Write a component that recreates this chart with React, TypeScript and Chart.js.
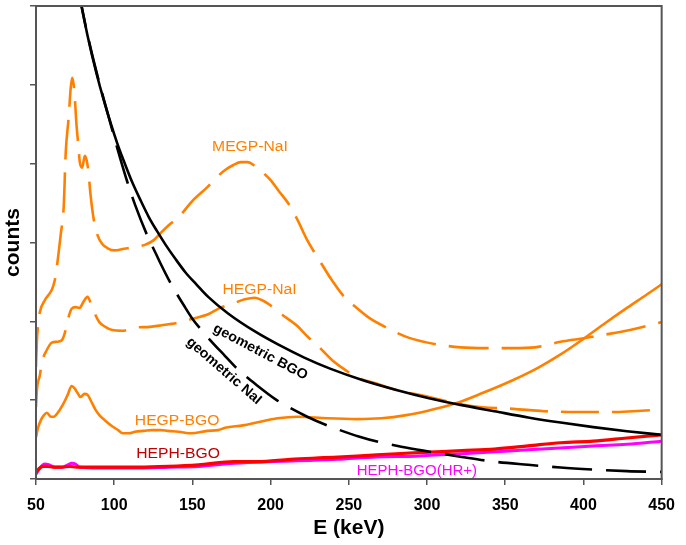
import React, { useEffect, useRef } from "react";
import { Chart, registerables } from "chart.js";

Chart.register(...registerables);

// ---------- data (E in keV, counts in arbitrary units) ----------
const megpNaIE = [50, 50.6, 51.3, 52.5, 55.7, 60.1, 62.0, 63.9, 65.8, 67.7, 69.0, 70.9, 72.2, 73.1, 74.1, 74.7, 75.9, 77.2, 78.0, 79.5, 81.2, 82.4, 83.5, 84.8, 86.7, 89.2, 92.4, 95.6, 100.0, 106.3, 112.7, 119.6, 125.3, 129.7, 134.8, 141.1, 150.6, 158.9, 165.2, 170.9, 175.9, 181.0, 185.4, 189.9, 194.9, 200.0, 205.7, 210.8, 217.1, 223.4, 231.0, 239.2, 247.5, 255.1, 263.3, 274.1, 288.6, 305.7, 321.5, 337.3, 355.1, 369.0, 385.4, 398.1, 413.3, 429.7, 450];
const megpNaIC = [1.42, 1.76, 1.95, 2.12, 2.27, 2.40, 2.52, 2.78, 3.10, 3.45, 4.14, 4.59, 4.96, 5.09, 5.00, 4.87, 4.49, 4.21, 4.02, 3.95, 4.10, 4.04, 3.90, 3.62, 3.32, 3.10, 2.98, 2.93, 2.90, 2.92, 2.94, 2.97, 3.03, 3.12, 3.22, 3.32, 3.54, 3.69, 3.82, 3.92, 3.98, 4.02, 4.02, 3.97, 3.89, 3.79, 3.64, 3.51, 3.29, 3.03, 2.78, 2.52, 2.30, 2.17, 2.04, 1.92, 1.79, 1.71, 1.67, 1.66, 1.66, 1.67, 1.74, 1.78, 1.83, 1.89, 1.99];

const hegpNaIE = [50, 50.6, 52.5, 53.8, 57.0, 60.1, 63.3, 66.5, 68.4, 69.6, 70.9, 72.8, 75.3, 77.8, 80.4, 82.9, 85.4, 88.0, 90.5, 94.3, 98.7, 105.1, 113.3, 122.8, 130.4, 139.9, 149.4, 160.1, 167.7, 176.6, 183.5, 189.9, 194.3, 199.4, 207.6, 217.1, 223.4, 229.7, 239.2, 248.7, 255.1, 267.7, 280.4, 301.3, 318.4, 335.4, 355.1, 374.7, 396.2, 419.0, 431.6, 450];
const hegpNaIC = [0.91, 1.13, 1.32, 1.48, 1.64, 1.73, 1.74, 1.76, 1.85, 1.95, 2.06, 2.16, 2.18, 2.17, 2.25, 2.31, 2.21, 2.08, 1.99, 1.93, 1.89, 1.88, 1.92, 1.93, 1.95, 1.98, 2.03, 2.09, 2.17, 2.23, 2.28, 2.30, 2.27, 2.21, 2.08, 1.94, 1.81, 1.70, 1.51, 1.37, 1.29, 1.21, 1.13, 1.04, 0.96, 0.91, 0.89, 0.86, 0.85, 0.85, 0.86, 0.88];

const hegpBGOE = [50, 51.3, 53.2, 55.1, 57.0, 59.5, 61.4, 63.9, 67.1, 70.3, 72.8, 74.7, 76.6, 78.5, 81.0, 82.9, 85.4, 88.0, 90.5, 94.3, 98.7, 102.5, 105.7, 109.5, 113.3, 119.0, 124.1, 129.7, 134.2, 141.1, 149.4, 159.5, 166.5, 170.9, 182.3, 191.8, 204.4, 217.1, 236.1, 255.1, 270.9, 286.7, 301.3, 318.4, 335.4, 354.4, 370.9, 385.4, 398.1, 412.7, 427.8, 440.5, 450];
const hegpBGOC = [0.53, 0.65, 0.75, 0.81, 0.84, 0.79, 0.79, 0.84, 0.94, 1.07, 1.18, 1.15, 1.09, 1.04, 1.08, 1.07, 0.98, 0.88, 0.81, 0.74, 0.67, 0.62, 0.58, 0.58, 0.60, 0.61, 0.62, 0.62, 0.61, 0.60, 0.58, 0.61, 0.62, 0.65, 0.68, 0.72, 0.77, 0.79, 0.77, 0.76, 0.77, 0.81, 0.87, 0.96, 1.09, 1.25, 1.41, 1.58, 1.75, 1.96, 2.17, 2.34, 2.47];

const hephBGOE = [50, 51.9, 54.4, 57.6, 60.8, 66.5, 71.5, 75.9, 90.5, 115.8, 134.8, 153.8, 176.6, 191.8, 212.6, 234.2, 255.1, 280.4, 301.3, 322.2, 343.0, 364.6, 385.4, 406.3, 427.8, 450];
const hephBGOC = [0.08, 0.13, 0.16, 0.16, 0.15, 0.15, 0.16, 0.15, 0.15, 0.15, 0.16, 0.18, 0.22, 0.22, 0.25, 0.27, 0.29, 0.32, 0.34, 0.36, 0.38, 0.42, 0.46, 0.48, 0.52, 0.56];

const hephHRE = [50, 52.5, 55.7, 58.2, 62.0, 67.1, 70.3, 72.8, 75.3, 77.8, 90.5, 115.8, 134.8, 153.8, 176.6, 198.1, 217.1, 242.4, 267.7, 293.0, 322.2, 364.6, 406.3, 427.8, 450];
const hephHRC = [0.06, 0.14, 0.19, 0.18, 0.15, 0.15, 0.18, 0.20, 0.19, 0.15, 0.14, 0.14, 0.15, 0.16, 0.20, 0.22, 0.23, 0.25, 0.28, 0.29, 0.32, 0.37, 0.42, 0.44, 0.48];

const geoBGOE = [76.9, 79.1, 82.9, 88.6, 93.7, 101.9, 107.0, 111.4, 116.5, 122.2, 127.2, 132.9, 139.2, 145.6, 152.5, 160.1, 172.8, 190.5, 204.4, 221.5, 238.0, 259.5, 280.4, 301.3, 322.2, 343.0, 364.6, 385.4, 406.3, 427.8, 450];
const geoBGOC = [6.23, 6.00, 5.63, 5.15, 4.78, 4.26, 3.99, 3.77, 3.55, 3.32, 3.15, 2.97, 2.79, 2.62, 2.47, 2.31, 2.10, 1.865, 1.71, 1.54, 1.40, 1.25, 1.13, 1.025, 0.937, 0.86, 0.781, 0.716, 0.658, 0.606, 0.56];

const geoNaIE = [76.9, 79.1, 82.9, 88.6, 93.7, 98.7, 103.8, 108.2, 113.3, 120.9, 126.6, 129.7, 136.7, 144.3, 149.4, 160.1, 170.9, 179.1, 191.8, 203.2, 210.8, 223.4, 236.1, 244.3, 256.3, 269.0, 283.5, 297.5, 322.2, 343.0, 364.6, 385.4, 406.3, 427.8, 450];
const geoNaIC = [6.23, 6.00, 5.64, 5.17, 4.79, 4.43, 4.07, 3.78, 3.48, 3.10, 2.86, 2.73, 2.46, 2.21, 2.05, 1.79, 1.56, 1.39, 1.18, 1.01, 0.92, 0.79, 0.68, 0.62, 0.54, 0.47, 0.41, 0.36, 0.28, 0.22, 0.18, 0.145, 0.12, 0.10, 0.09];

// annotation labels (positions in data units)
const labelTexts = ["MEGP-NaI", "HEGP-NaI", "HEGP-BGO", "HEPH-BGO", "HEPH-BGO(HR+)", "geometric BGO", "geometric NaI"];
const labelE = [186.8, 192.9, 140.2, 140.8, 293.5, 193.4, 170.1];
const labelC = [4.21, 2.40, 0.74, 0.32, 0.10, 1.61, 1.37];

const xTitle = "E (keV)";
const yTitle = "counts";

// ---------- styles ----------
const FONT = "'Liberation Sans', Arial, Helvetica, sans-serif";
const ORANGE = "#FF8000";
const labelStyles = [
  { color: ORANGE, weight: "normal", size: 14, angle: 0, stretch: 1.12 },
  { color: ORANGE, weight: "normal", size: 14, angle: 0, stretch: 1.12 },
  { color: ORANGE, weight: "normal", size: 14, angle: 0, stretch: 1.12 },
  { color: "#C00000", weight: "normal", size: 14, angle: 0, stretch: 1.12 },
  { color: "#FF00FF", weight: "normal", size: 14, angle: 0, stretch: 1.07 },
  { color: "#000000", weight: "bold", size: 14, angle: 28, stretch: 1.02 },
  { color: "#000000", weight: "bold", size: 14, angle: 41, stretch: 1.02 },
];

const pts = (xs: number[], ys: number[]) => xs.map((x, i) => ({ x, y: ys[i] }));

const overlayPlugin = {
  id: "overlay",
  afterDatasetsDraw(chart: any) {
    const { ctx, chartArea, scales } = chart;
    const xs = scales.x;
    const ys = scales.y;
    ctx.save();
    labelTexts.forEach((t, i) => {
      const st = labelStyles[i];
      const px = xs.getPixelForValue(labelE[i]);
      const py = ys.getPixelForValue(labelC[i]);
      ctx.save();
      ctx.translate(px, py);
      ctx.rotate((st.angle * Math.PI) / 180);
      ctx.scale(st.stretch, 1);
      ctx.font = `${st.weight} ${st.size}px ${FONT}`;
      ctx.fillStyle = st.color;
      ctx.textAlign = "center";
      ctx.textBaseline = "middle";
      ctx.fillText(t, 0, 0);
      ctx.restore();
    });
    ctx.strokeStyle = "#555555";
    ctx.lineWidth = 2;
    ctx.strokeRect(chartArea.left, chartArea.top, chartArea.right - chartArea.left, chartArea.bottom - chartArea.top);
    ctx.restore();
  },
};

export default function App() {
  const ref = useRef<HTMLCanvasElement | null>(null);
  useEffect(() => {
    if (!ref.current) return;
    const geoClip = { left: 5, top: 0, right: 5, bottom: 5 };
    const chart = new Chart(ref.current, {
      type: "line",
      data: {
        datasets: [
          { label: "geometric BGO", data: pts(geoBGOE, geoBGOC), borderColor: "#000", borderWidth: 2.6, clip: geoClip as any },
          { label: "geometric NaI", data: pts(geoNaIE, geoNaIC), borderColor: "#000", borderWidth: 2.6, borderDash: [40, 14], clip: geoClip as any },
          { label: "HEPH-BGO", data: pts(hephBGOE, hephBGOC), borderColor: "#FF0000", borderWidth: 3.2 },
          { label: "HEPH-BGO(HR+)", data: pts(hephHRE, hephHRC), borderColor: "#FF00FF", borderWidth: 3 },
          { label: "MEGP-NaI", data: pts(megpNaIE, megpNaIC), borderColor: ORANGE, borderWidth: 2.6, borderDash: [40, 13] },
          { label: "HEGP-NaI", data: pts(hegpNaIE, hegpNaIC), borderColor: ORANGE, borderWidth: 2.6, borderDash: [38, 13] },
          { label: "HEGP-BGO", data: pts(hegpBGOE, hegpBGOC), borderColor: ORANGE, borderWidth: 2.6 },
        ] as any,
      },
      options: {
        animation: false,
        responsive: true,
        maintainAspectRatio: false,
        layout: { padding: { left: 0, top: 6, right: 18, bottom: 0 } },
        elements: {
          point: { radius: 0, hoverRadius: 0 },
          line: { cubicInterpolationMode: "monotone", fill: false },
        },
        plugins: { legend: { display: false }, tooltip: { enabled: false } },
        events: [],
        scales: {
          x: {
            type: "linear",
            min: 50,
            max: 450,
            afterFit: (s: any) => { s.height = 66; },
            ticks: { stepSize: 50, color: "#000", padding: 11, maxRotation: 0, autoSkip: false, font: { family: FONT, size: 16, weight: "bold" } },
            grid: { drawOnChartArea: false, drawTicks: true, tickLength: 6, color: "#555", lineWidth: 1.5 },
            border: { color: "#555", width: 2 },
            title: { display: true, text: xTitle, color: "#000", font: { family: FONT, size: 21, weight: "bold" }, padding: { top: 0, bottom: 4 } },
          },
          y: {
            type: "linear",
            min: 0,
            max: 6,
            afterFit: (s: any) => { s.width = 36; },
            ticks: { stepSize: 1, display: false },
            grid: { drawOnChartArea: false, drawTicks: true, tickLength: 6, color: "#555", lineWidth: 1.5 },
            border: { color: "#555", width: 2 },
            title: { display: true, text: yTitle, color: "#000", font: { family: FONT, size: 21, weight: "bold" }, padding: { top: 1, bottom: 0 } },
          },
        },
      } as any,
      plugins: [overlayPlugin],
    });
    return () => chart.destroy();
  }, []);
  return (
    <div style={{ position: "fixed", left: 0, top: 0, width: 686, height: 545, background: "#fff" }}>
      <canvas ref={ref} />
    </div>
  );
}
